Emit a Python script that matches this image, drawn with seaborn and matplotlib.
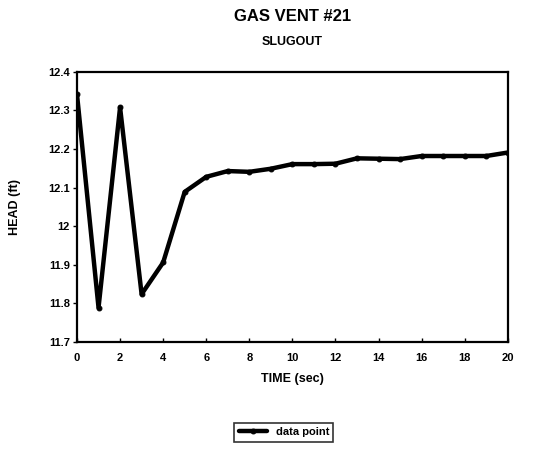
import numpy as np
import pandas as pd
import matplotlib
matplotlib.use("Agg")
import matplotlib.pyplot as plt
import seaborn as sns

time_sec = list(range(0, 21))
head_ft = [12.342, 11.789, 12.308, 11.824, 11.906, 12.089, 12.128, 12.143,
           12.141, 12.149, 12.161, 12.161, 12.162, 12.176, 12.175, 12.174,
           12.182, 12.182, 12.182, 12.182, 12.191]
x_ticks = list(range(0, 21, 2))
y_ticks = [11.7, 11.8, 11.9, 12.0, 12.1, 12.2, 12.3, 12.4]
y_tick_labels = ["11.7", "11.8", "11.9", "12", "12.1", "12.2", "12.3", "12.4"]

df = pd.DataFrame({"time": time_sec, "head": head_ft})

sns.set_theme(style="white")
plt.rcParams['font.family'] = ['Liberation Sans', 'DejaVu Sans']
plt.rcParams['font.weight'] = 'bold'
plt.rcParams['text.color'] = 'black'
plt.rcParams['axes.labelcolor'] = 'black'
plt.rcParams['xtick.color'] = 'black'
plt.rcParams['ytick.color'] = 'black'

fig = plt.figure(figsize=(5.46, 4.73), dpi=100)
ax = fig.add_axes([0.141, 0.277, 0.789, 0.571])

sns.lineplot(data=df, x="time", y="head", ax=ax, color="black", linewidth=3.2,
             marker="o", markersize=3.5, markeredgecolor="black",
             label="data point")

ax.set_xlim(0, 20)
ax.set_ylim(11.7, 12.4)
ax.set_xticks(x_ticks)
ax.set_yticks(y_ticks)
ax.set_yticklabels(y_tick_labels)
ax.tick_params(axis="x", direction="in", length=3, width=1, labelsize=8, pad=8)
ax.tick_params(axis="y", direction="out", length=3, width=1, labelsize=8, pad=2)
ax.tick_params(left=True, bottom=True)
for lbl in ax.get_xticklabels() + ax.get_yticklabels():
    lbl.set_fontweight("bold")
for sp in ax.spines.values():
    sp.set_color("black")
    sp.set_linewidth(1.6)

ax.set_xlabel("TIME (sec)", fontsize=9, fontweight="bold", labelpad=7)
ax.set_ylabel("HEAD (ft)", fontsize=9, fontweight="bold", labelpad=20)

fig.text(0.535, 0.965, "GAS VENT #21", ha="center", va="center",
         fontsize=12, fontweight="bold")
fig.text(0.535, 0.912, "SLUGOUT", ha="center", va="center",
         fontsize=9, fontweight="bold")

leg = ax.legend(loc="center", bbox_to_anchor=(0.52, 0.086),
                bbox_transform=fig.transFigure, frameon=True, fancybox=False,
                fontsize=8, handlelength=2.5, borderpad=0.4)
leg.get_frame().set_edgecolor("black")
leg.get_frame().set_linewidth(1.2)

fig.savefig("out.png", dpi=100)
